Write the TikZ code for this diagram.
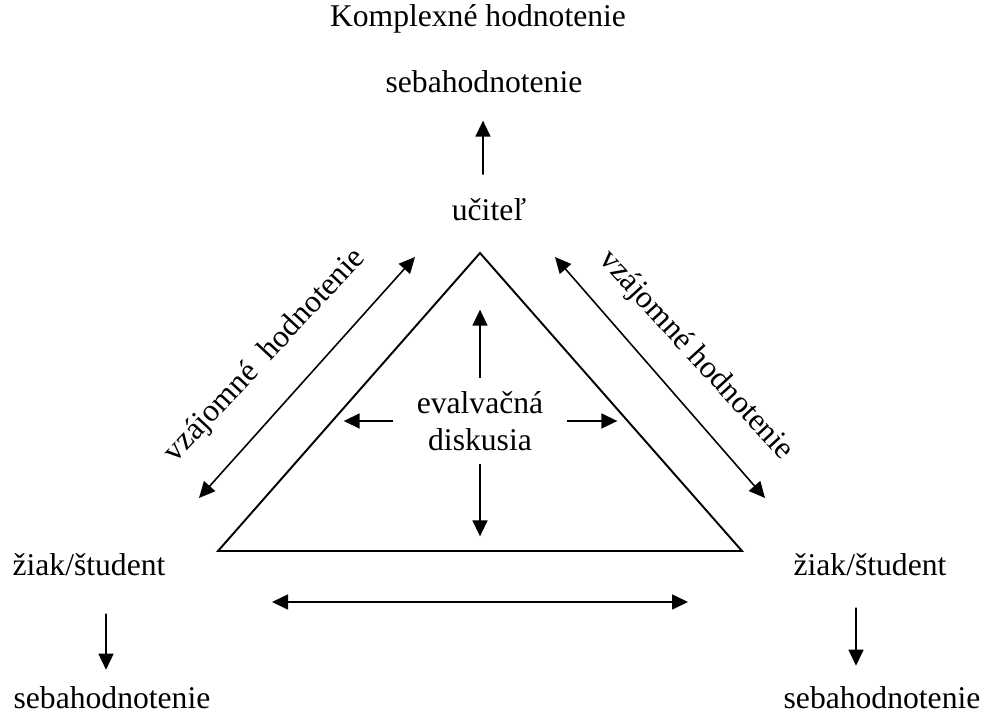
\documentclass[tikz,border=0pt]{standalone}
\usepackage{fontspec}
\setmainfont{Liberation Serif}
\usetikzlibrary{arrows.meta, positioning}

\tikzset{
    lbl/.style={anchor=base, inner sep=0pt, font=\fontsize{18}{21}\selectfont},
    arr/.style={-{Triangle[length=3.2mm,width=3mm]}, line width=0.9pt},
    dblarr/.style={{Triangle[length=3.2mm,width=3mm]}-{Triangle[length=3.2mm,width=3mm]}, line width=0.9pt}
}

\begin{document}
\begin{tikzpicture}[x=0.02cm, y=-0.02cm]

    \useasboundingbox (0,0) rectangle (982,715);

    % corners of the triangle
    \coordinate (A) at (480,253);
    \coordinate (B) at (218,551);
    \coordinate (C) at (742,551);

    % triangle
    \draw[line width=1.1pt] (A) -- (B) -- (C) -- cycle;

    % texts
    \node[lbl] (title) at (478,27) {Komplexné hodnotenie};
    \node[lbl] (sebaT) at (484,93) {sebahodnotenie};
    \node[lbl] (ucitel) at (489,221) {učiteľ};
    \node[lbl] (ziakL) at (89,575) {žiak/študent};
    \node[lbl] (ziakR) at (870,575) {žiak/študent};
    \node[lbl] (sebaL) at (112,708) {sebahodnotenie};
    \node[lbl] (sebaR) at (882,708) {sebahodnotenie};
    \node[lbl, rotate=47] (vzL) at (271,361) {vzájomné\ \ hodnotenie};
    \node[lbl, rotate=-47.5] (vzR) at (690,361) {vzájomné hodnotenie};

    % discussion in the middle
    \node[anchor=center, inner sep=0pt, align=center, minimum width=3.48cm, minimum height=1.72cm,
        font=\fontsize{18}{21}\selectfont] (eval) at (480,421) {evalvačná\\diskusia};
    \draw[arr] (eval.north) -- ++(0,-68);
    \draw[arr] (eval.south) -- ++(0,72);
    \draw[arr] (eval.west) -- ++(-49,0);
    \draw[arr] (eval.east) -- ++(50,0);

    % self-assessment arrows
    \draw[arr] ([xshift=-0.12cm,yshift=0.48cm]ucitel.north) -- ([xshift=-0.02cm,yshift=-0.54cm]sebaT.south);
    \draw[arr] ([xshift=0.34cm,yshift=-0.76cm]ziakL.south) -- ([xshift=-0.12cm,yshift=0.32cm]sebaL.north);
    \draw[arr] ([xshift=-0.28cm,yshift=-0.64cm]ziakR.south) -- ([xshift=-0.52cm,yshift=0.4cm]sebaR.north);

    % mutual assessment arrows
    \coordinate (l1) at (199,498);
    \coordinate (l2) at (415,257);
    \coordinate (r1) at (555,257);
    \coordinate (r2) at (765,498);
    \coordinate (b1) at (272,602);
    \coordinate (b2) at (688,602);
    \draw[dblarr] (l1) -- (l2);
    \draw[dblarr] (r1) -- (r2);
    \draw[dblarr] (b1) -- (b2);

\end{tikzpicture}
\end{document}
